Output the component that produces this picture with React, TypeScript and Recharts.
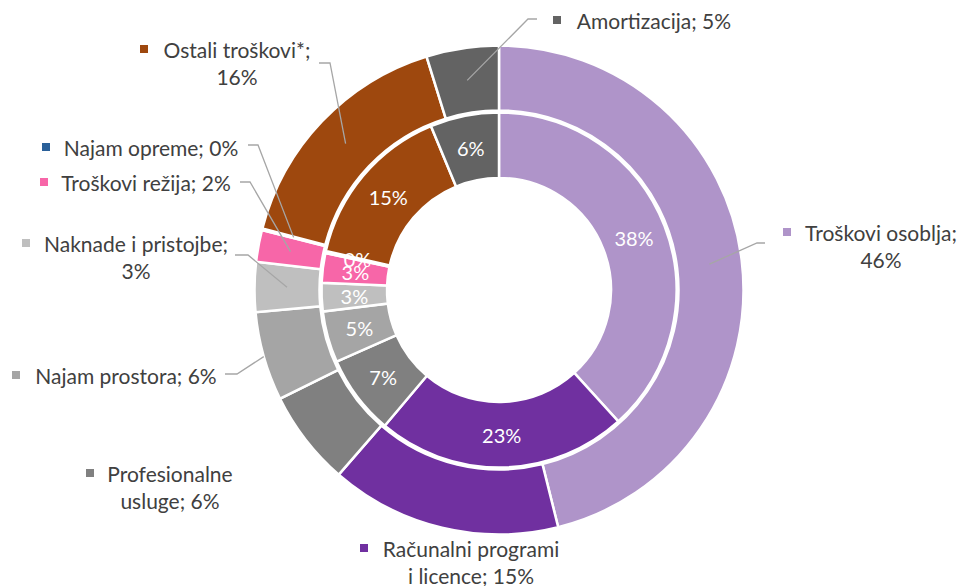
import { PieChart, Pie, Cell } from 'recharts';

const categories = [
  'Troškovi osoblja',
  'Računalni programi i licence',
  'Profesionalne usluge',
  'Najam prostora',
  'Naknade i pristojbe',
  'Troškovi režija',
  'Najam opreme',
  'Ostali troškovi*',
  'Amortizacija',
];

// outer ring
const outerValues = [46.2, 15.3, 6.3, 5.9, 3.3, 2.1, 0.1, 16.2, 4.8];
// inner ring
const innerValues = [38.5, 23.0, 7.3, 4.7, 2.6, 2.7, 0.2, 15.3, 6.3];

const colors = ['#AF94C9', '#7030A0', '#808080', '#A5A5A5', '#BFBFBF', '#F766A8', '#2A6099', '#9E480E', '#636363'];

const W = 963;
const H = 586;
const RAD = Math.PI / 180;
const FONT = 'Lato, "Noto Sans", sans-serif';

// hand placed labels, like the dragged ones in the excel original
const labelLayout: any[] = [
  { tx: 881, ty: 232, mx: 783, wrap: 2, line: [[757, 243], [765, 243]] },
  { tx: 471, ty: 548, mx: 360, wrap: 2 },
  { tx: 170, ty: 473, mx: 86, wrap: 1 },
  { tx: 126, ty: 375, mx: 12, wrap: 0, edge: true, line: [[237, 374], [225, 374]] },
  { tx: 136, ty: 243, mx: 22, wrap: 3, line: [[248, 255], [235, 255]] },
  { tx: 146, ty: 182, mx: 40, wrap: 0, line: [[250, 182], [240, 182]] },
  { tx: 151, ty: 147, mx: 42, wrap: 0, line: [[258, 145], [248, 145]] },
  { tx: 237, ty: 49, mx: 140, wrap: 2, line: [[330, 63], [319, 63]] },
  { tx: 654, ty: 20, mx: 553, wrap: 0, line: [[528, 19], [537, 19]] },
];

const outerData = categories.map((name, i) => ({ name, value: outerValues[i] }));
const innerData = categories.map((name, i) => ({ name, value: innerValues[i] }));

const renderOuterLabel = (p: any) => {
  const { cx, cy, midAngle, innerRadius, outerRadius, percent, index } = p;
  const l = labelLayout[index];
  const words = `${categories[index]}; ${Math.round(percent * 100)}%`.split(' ');
  const lines = l.wrap ? [words.slice(0, l.wrap).join(' '), words.slice(l.wrap).join(' ')] : [words.join(' ')];
  const r = l.edge ? outerRadius : (innerRadius + outerRadius) / 2;
  const ax = cx + r * Math.cos(-midAngle * RAD);
  const ay = cy + r * Math.sin(-midAngle * RAD);
  return (
    <g key={`ol-${index}`}>
      {l.line && (
        <polyline
          points={`${ax},${ay} ${l.line[0][0]},${l.line[0][1]} ${l.line[1][0]},${l.line[1][1]}`}
          fill="none"
          stroke="#A6A6A6"
          strokeWidth={1.3}
        />
      )}
      <rect x={l.mx} y={l.ty - 4} width={8} height={8} fill={colors[index]} />
      {lines.map((t, i) => (
        <text
          key={i}
          x={l.tx}
          y={l.ty + i * 27}
          textAnchor="middle"
          dominantBaseline="central"
          fontFamily={FONT}
          fontSize={21}
          fill="#404040"
        >
          {t}
        </text>
      ))}
    </g>
  );
};

const renderInnerLabel = (p: any) => {
  const { cx, cy, midAngle, innerRadius, outerRadius, percent, index } = p;
  const r = (innerRadius + outerRadius) / 2;
  const x = cx + r * Math.cos(-midAngle * RAD);
  const y = cy + r * Math.sin(-midAngle * RAD);
  return (
    <text
      key={`il-${index}`}
      x={x}
      y={y}
      textAnchor="middle"
      dominantBaseline="central"
      fontFamily={FONT}
      fontSize={20}
      fill="#FFFFFF"
    >
      {`${Math.round(percent * 100)}%`}
    </text>
  );
};

export default function App() {
  return (
    <div style={{ position: 'absolute', left: 0, top: 0, width: W, height: H, background: '#fff' }}>
      <PieChart width={W} height={H} margin={{ top: 0, right: 0, bottom: 0, left: 0 }}>
        <Pie
          data={innerData}
          dataKey="value"
          cx={499}
          cy={290}
          innerRadius={112}
          outerRadius={177.5}
          startAngle={90}
          endAngle={-270}
          stroke="#fff"
          strokeWidth={2.5}
          label={renderInnerLabel}
          labelLine={false}
          isAnimationActive={false}
        >
          {innerData.map((d, i) => (
            <Cell key={d.name} fill={colors[i]} />
          ))}
        </Pie>
        <Pie
          data={outerData}
          dataKey="value"
          cx={499}
          cy={290}
          innerRadius={179.5}
          outerRadius={244.5}
          startAngle={90}
          endAngle={-270}
          stroke="#fff"
          strokeWidth={2.5}
          label={renderOuterLabel}
          labelLine={false}
          isAnimationActive={false}
        >
          {outerData.map((d, i) => (
            <Cell key={d.name} fill={colors[i]} />
          ))}
        </Pie>
      </PieChart>
    </div>
  );
}
